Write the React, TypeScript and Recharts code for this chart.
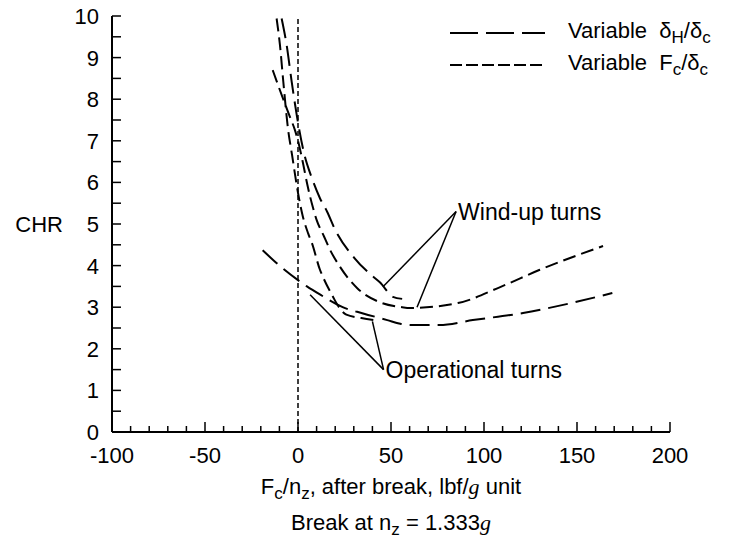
import { Line, LineChart, ReferenceDot, ReferenceLine, XAxis, YAxis } from 'recharts'

// x ticks every 10 lbf/g, labels every 50
const xTicks = Array.from({ length: 31 }, (_, i) => -100 + i * 10)
const yTicks = Array.from({ length: 21 }, (_, i) => i * 0.5)

// operational turns, variable dH/dc (long dash)
const opHX = [-19, -10, 0, 4.8, 12, 24, 35, 48, 55, 62, 76, 94, 121, 145, 169]
const opHY = [4.37, 4.0, 3.65, 3.5, 3.3, 3.0, 2.85, 2.69, 2.6, 2.57, 2.57, 2.69, 2.86, 3.08, 3.34]

// operational turns, variable Fc/dc (medium dash)
const opFX = [-11.5, -9.7, -7.9, -5.4, -3.2, 0, 2.5, 5.4, 7.5, 11.8, 13.4, 18.8, 22, 26, 34, 43]
const opFY = [9.94, 9.3, 8.42, 7.3, 6.66, 5.75, 5.2, 4.78, 4.54, 3.9, 3.73, 3.25, 3.0, 2.82, 2.74, 2.68]

// wind-up turns, variable dH/dc
const wuHX = [-8.8, -6.1, -3.4, -0.5, 3, 7.5, 11.8, 15.6, 20, 30, 40, 44, 51, 56]
const wuHY = [9.94, 9.3, 8.42, 7.57, 6.75, 6.1, 5.62, 5.3, 4.86, 4.2, 3.75, 3.6, 3.25, 3.2]

// wind-up turns, variable Fc/dc
const wuFX = [-13.6, -10.4, -4.3, -1.6, 0, 2.7, 5, 8, 10, 14, 17, 22.6, 32, 44, 56, 60, 86, 109, 130, 164]
const wuFY = [8.7, 8.3, 7.57, 7.25, 7.0, 6.46, 5.95, 5.4, 5.1, 4.7, 4.4, 3.97, 3.45, 3.12, 3.0, 2.98, 3.1, 3.49, 3.9, 4.47]

const zip = (xs: number[], ys: number[]) => xs.map((x, i) => ({ x, y: ys[i] }))

const font = "'Liberation Sans', Arial, Helvetica, sans-serif"
const serif = "'Liberation Serif', 'Times New Roman', serif"
const FS = 22
const LONG = '20 8'
const MED = '13 6'

function XTick({ x, y, payload }: any) {
  const v = payload.value
  const major = v % 50 === 0
  return (
    <g>
      <line x1={x} y1={y} x2={x} y2={y - (major ? 10 : 6)} stroke='#000' strokeWidth={1.5} />
      {major && (
        <text x={x} y={y + 31} textAnchor='middle' fontSize={FS} fontFamily={font} fill='#000'>
          {v}
        </text>
      )}
    </g>
  )
}

function YTick({ x, y, payload }: any) {
  const v = payload.value
  const major = Number.isInteger(v)
  return (
    <g>
      <line x1={x} y1={y} x2={x + 9} y2={y} stroke='#000' strokeWidth={1.5} />
      {major && (
        <text x={x - 13} y={y + 8} textAnchor='end' fontSize={FS} fontFamily={font} fill='#000'>
          {v}
        </text>
      )}
    </g>
  )
}

const sub = { fontSize: 17 }

export default function App() {
  return (
    <div style={{ position: 'absolute', left: 0, top: 0, width: 730, height: 548, background: '#fff', fontFamily: font, color: '#000' }}>
      <LineChart width={730} height={548} margin={{ top: 16, right: 60, left: 72, bottom: 86 }}>
        <XAxis
          type='number'
          dataKey='x'
          domain={[-100, 200]}
          ticks={xTicks}
          interval={0}
          tickSize={0}
          tickMargin={0}
          tick={<XTick />}
          axisLine={{ stroke: '#000', strokeWidth: 2 }}
          height={30}
        />
        <YAxis
          type='number'
          dataKey='y'
          domain={[0, 10]}
          ticks={yTicks}
          interval={0}
          tickSize={0}
          tickMargin={0}
          tick={<YTick />}
          axisLine={{ stroke: '#000', strokeWidth: 2 }}
          width={40}
          label={{ value: 'CHR', position: 'left', offset: 9, fontSize: FS, fill: '#000', fontFamily: font }}
        />
        <ReferenceLine x={0} stroke='#000' strokeWidth={1.5} strokeDasharray='5 3' />
        <Line data={zip(opHX, opHY)} dataKey='y' type='monotone' stroke='#000' strokeWidth={2} strokeDasharray={LONG} dot={false} isAnimationActive={false} />
        <Line data={zip(opFX, opFY)} dataKey='y' type='monotone' stroke='#000' strokeWidth={2} strokeDasharray={MED} dot={false} isAnimationActive={false} />
        <Line data={zip(wuHX, wuHY)} dataKey='y' type='monotone' stroke='#000' strokeWidth={2} strokeDasharray={LONG} dot={false} isAnimationActive={false} />
        <Line data={zip(wuFX, wuFY)} dataKey='y' type='monotone' stroke='#000' strokeWidth={2} strokeDasharray={MED} dot={false} isAnimationActive={false} />
        {/* leader lines */}
        <ReferenceLine segment={[{ x: 85, y: 5.3 }, { x: 45.7, y: 3.49 }]} stroke='#000' strokeWidth={1.5} />
        <ReferenceLine segment={[{ x: 85, y: 5.3 }, { x: 64, y: 3.0 }]} stroke='#000' strokeWidth={1.5} />
        <ReferenceLine segment={[{ x: 46, y: 1.5 }, { x: 6.5, y: 3.3 }]} stroke='#000' strokeWidth={1.5} />
        <ReferenceLine segment={[{ x: 46, y: 1.5 }, { x: 40, y: 2.66 }]} stroke='#000' strokeWidth={1.5} />
        <ReferenceDot x={85} y={5.3} r={0} label={{ value: 'Wind-up turns', position: 'right', offset: 2, fontSize: 23, fill: '#000', fontFamily: font }} />
        <ReferenceDot x={46} y={1.5} r={0} label={{ value: 'Operational turns', position: 'right', offset: 2, fontSize: 23, fill: '#000', fontFamily: font }} />
      </LineChart>

      {/* legend */}
      <div style={{ position: 'absolute', left: 450, top: 17, fontSize: FS, whiteSpace: 'nowrap' }}>
        <div style={{ display: 'flex', alignItems: 'center', height: 32 }}>
          <svg width={95} height={6}><line x1={0} y1={3} x2={95} y2={3} stroke='#000' strokeWidth={2} strokeDasharray='28 8' /></svg>
          <span style={{ marginLeft: 23 }}>Variable&nbsp; δ<sub style={sub}>H</sub>/δ<sub style={sub}>c</sub></span>
        </div>
        <div style={{ display: 'flex', alignItems: 'center', height: 32 }}>
          <svg width={95} height={6}><line x1={0} y1={3} x2={95} y2={3} stroke='#000' strokeWidth={2} strokeDasharray='12 4' /></svg>
          <span style={{ marginLeft: 23 }}>Variable&nbsp; F<sub style={sub}>c</sub>/δ<sub style={sub}>c</sub></span>
        </div>
      </div>

      {/* x axis title */}
      <div style={{ position: 'absolute', left: 112, width: 558, top: 474, textAlign: 'center', fontSize: FS, lineHeight: '26px' }}>
        F<sub style={sub}>c</sub>/n<sub style={sub}>z</sub>, after break, lbf/<i style={{ fontFamily: serif }}>g</i> unit
      </div>
      <div style={{ position: 'absolute', left: 112, width: 558, top: 510, textAlign: 'center', fontSize: FS, lineHeight: '26px' }}>
        Break at n<sub style={sub}>z</sub> = 1.333<i style={{ fontFamily: serif }}>g</i>
      </div>
    </div>
  )
}
